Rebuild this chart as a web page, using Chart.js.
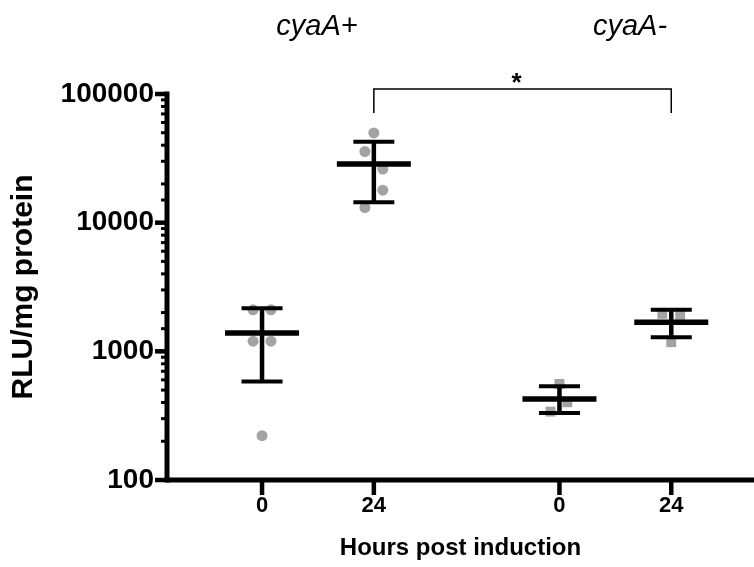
<!DOCTYPE html>
<html>
<head>
<meta charset="utf-8">
<script src="https://cdn.jsdelivr.net/npm/chart.js@4"></script>
<style>
  html, body { margin: 0; padding: 0; background: #fff; }
  #wrap { width: 754px; height: 567px; }
</style>
</head>
<body>
<div id="wrap"><canvas id="c" width="754" height="567"></canvas></div>
<script>
// ---- data ----
const groupNames = ['cyaA+', 'cyaA-'];
const xTickLabels = ['0', '24', '0', '24'];
const xPositions = [1, 2, 3.66, 4.66];
const yTickLabels = [100, 1000, 10000, 100000];

const means    = [1390, 28600, 427, 1683];
const errUpper = [2160, 42600, 536, 2100];
const errLower = [582, 14400, 332, 1289];

const plus0Values  = [2100, 2100, 1200, 1200, 221];
const plus0Jitter  = [-0.08, 0.08, -0.08, 0.08, 0];
const plus24Values = [49800, 35700, 26100, 17900, 13100];
const plus24Jitter = [0, -0.08, 0.08, 0.08, -0.08];
const minus0Values  = [558, 402, 340];
const minus0Jitter  = [0, 0.07, -0.08];
const minus24Values = [1955, 1920, 1178];
const minus24Jitter = [-0.08, 0.08, 0];

const FONT = "'Liberation Sans', Arial, Helvetica, sans-serif";

function pts(idx, vals, jit) {
  return vals.map((v, i) => ({ x: xPositions[idx] + jit[i], y: v }));
}

const grey = '#a3a3a3';

const overlay = {
  id: 'overlay',
  afterDatasetsDraw(chart) {
    const { ctx, scales: { x, y } } = chart;
    ctx.save();
    ctx.strokeStyle = '#000';
    ctx.lineCap = 'butt';
    for (let i = 0; i < means.length; i++) {
      const cx = x.getPixelForValue(xPositions[i]);
      const ym = y.getPixelForValue(means[i]);
      const yu = y.getPixelForValue(errUpper[i]);
      const yl = y.getPixelForValue(errLower[i]);
      ctx.lineWidth = 4.5;
      ctx.beginPath(); ctx.moveTo(cx, yu); ctx.lineTo(cx, yl); ctx.stroke();
      ctx.lineWidth = 4;
      ctx.beginPath();
      ctx.moveTo(cx - 20.5, yu); ctx.lineTo(cx + 20.5, yu);
      ctx.moveTo(cx - 20.5, yl); ctx.lineTo(cx + 20.5, yl);
      ctx.stroke();
      ctx.lineWidth = 5.5;
      ctx.beginPath(); ctx.moveTo(cx - 37, ym); ctx.lineTo(cx + 37, ym); ctx.stroke();
    }
    ctx.restore();
  },
  afterDraw(chart) {
    const { ctx, chartArea: a, scales: { x, y } } = chart;
    ctx.save();
    ctx.strokeStyle = '#000';
    ctx.fillStyle = '#000';
    ctx.lineWidth = 5;
    ctx.beginPath(); ctx.moveTo(a.left, a.top - 2.5); ctx.lineTo(a.left, a.bottom + 2.5); ctx.stroke();
    ctx.beginPath(); ctx.moveTo(a.left, a.bottom); ctx.lineTo(a.right, a.bottom); ctx.stroke();
    y.ticks.forEach(t => {
      const py = y.getPixelForValue(t.value);
      const major = yTickLabels.includes(t.value);
      ctx.lineWidth = major ? 4.5 : 3;
      ctx.beginPath();
      ctx.moveTo(a.left - (major ? 12 : 6), py);
      ctx.lineTo(a.left, py);
      ctx.stroke();
    });
    ctx.lineWidth = 4.5;
    xPositions.forEach(v => {
      const px = x.getPixelForValue(v);
      ctx.beginPath(); ctx.moveTo(px, a.bottom); ctx.lineTo(px, a.bottom + 15); ctx.stroke();
    });
    const bx1 = x.getPixelForValue(xPositions[1]);
    const bx2 = x.getPixelForValue(xPositions[3]);
    ctx.lineWidth = 1.5;
    ctx.beginPath();
    ctx.moveTo(bx1, 113); ctx.lineTo(bx1, 89); ctx.lineTo(bx2, 89); ctx.lineTo(bx2, 113);
    ctx.stroke();
    ctx.textAlign = 'center';
    ctx.textBaseline = 'middle';
    ctx.font = 'bold 26px ' + FONT;
    ctx.fillText('*', (bx1 + bx2) / 2 - 6, 84);
    ctx.font = 'italic 29px ' + FONT;
    ctx.fillText(groupNames[0], 317, 27);
    ctx.fillText(groupNames[1], 630, 27);
    ctx.restore();
  }
};

new Chart(document.getElementById('c'), {
  type: 'scatter',
  data: {
    datasets: [
      { data: pts(0, plus0Values, plus0Jitter), pointStyle: 'circle', pointRadius: 5.5, backgroundColor: grey, borderWidth: 0 },
      { data: pts(1, plus24Values, plus24Jitter), pointStyle: 'circle', pointRadius: 5.5, backgroundColor: grey, borderWidth: 0 },
      { data: pts(2, minus0Values, minus0Jitter), pointStyle: 'rect', pointRadius: 7, backgroundColor: grey, borderWidth: 0 },
      { data: pts(3, minus24Values, minus24Jitter), pointStyle: 'rect', pointRadius: 7, backgroundColor: grey, borderWidth: 0 }
    ]
  },
  options: {
    responsive: false,
    animation: false,
    layout: { autoPadding: false, padding: { top: 94, right: 0, left: 0, bottom: 0 } },
    plugins: { legend: { display: false }, tooltip: { enabled: false } },
    scales: {
      x: {
        type: 'linear', min: 0.15, max: 5.40,
        grid: { display: false, drawTicks: false },
        border: { display: false },
        afterBuildTicks: s => { s.ticks = xPositions.map(v => ({ value: v })); },
        ticks: {
          autoSkip: false, maxRotation: 0, padding: 13, color: '#000',
          font: { family: FONT, weight: 'bold', size: 22 },
          callback: (v, i) => xTickLabels[i]
        },
        title: {
          display: true, text: 'Hours post induction', color: '#000',
          font: { family: FONT, weight: 'bold', size: 24 },
          padding: { top: 0, bottom: 4 }
        },
        afterFit: s => { s.height = 87; }
      },
      y: {
        type: 'logarithmic', min: 100, max: 100000,
        grid: { display: false, drawTicks: false },
        border: { display: false },
        ticks: {
          autoSkip: false, padding: 13, color: '#000',
          font: { family: FONT, weight: 'bold', size: 28 },
          callback: v => yTickLabels.includes(v) ? String(v) : ''
        },
        title: {
          display: true, text: 'RLU/mg protein', color: '#000',
          font: { family: FONT, weight: 'bold', size: 30 },
          padding: { top: 6, bottom: 0 }
        },
        afterFit: s => { s.width = 167; }
      }
    }
  },
  plugins: [overlay]
});
</script>
</body>
</html>
